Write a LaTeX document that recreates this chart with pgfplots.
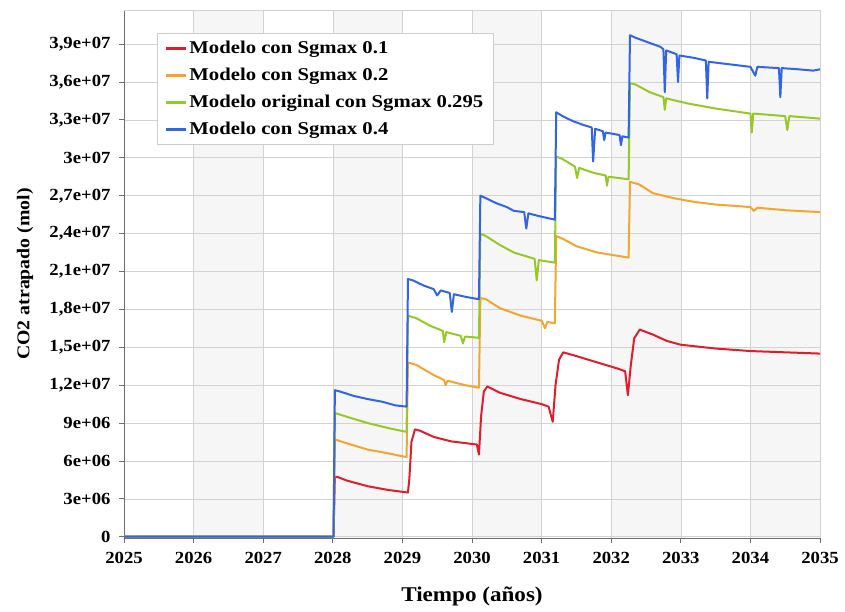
\documentclass[border=0pt]{standalone}
\usepackage{pgfplots}
\pgfplotsset{compat=1.18}
\usepackage{fontspec}
\setmainfont{Liberation Serif}[FakeStretch=1.1]
\newfontfamily\legfont{Liberation Serif}[FakeStretch=1.15]
\definecolor{cred}{RGB}{222,30,45}
\definecolor{corange}{RGB}{243,165,45}
\definecolor{cgreen}{RGB}{150,200,40}
\definecolor{cblue}{RGB}{50,100,230}
\definecolor{axgray}{RGB}{110,110,110}
\begin{document}
\begin{tikzpicture}
\begin{axis}[
  set layers=standard,
  at={(0,0)}, anchor=south west,
  scale only axis, width=696pt, height=528pt,
  xmin=2025, xmax=2035, ymin=-1e5, ymax=4.17e7,
  xtick={2025,2026,2027,2028,2029,2030,2031,2032,2033,2034,2035},
  xticklabels={2025,2026,2027,2028,2029,2030,2031,2032,2033,2034,2035},
  ytick={0,3e6,6e6,9e6,1.2e7,1.5e7,1.8e7,2.1e7,2.4e7,2.7e7,3e7,3.3e7,3.6e7,3.9e7},
  yticklabels={0,3e+06,6e+06,9e+06,{1,2e+07},{1,5e+07},{1,8e+07},{2,1e+07},{2,4e+07},{2,7e+07},3e+07,{3,3e+07},{3,6e+07},{3,9e+07}},
  scaled y ticks=false,
  axis x line*=bottom, axis y line*=left,
  axis line style={axgray, line width=1pt, -},
  tick style={axgray, line width=0.8pt},
  tick align=outside, major tick length=5pt,
  grid=major, major grid style={gray!35, line width=0.6pt},
  ticklabel style={font=\fontsize{17}{19}\selectfont\bfseries},
  yticklabel style={xshift=-5pt},
  xticklabel style={yshift=-6pt},
  xlabel={Tiempo (años)},
  ylabel={CO2 atrapado (mol)},
  xlabel style={at={(axis description cs:0.5,-0.11)}, anchor=center, font=\fontsize{21}{24}\selectfont\bfseries},
  ylabel style={at={(axis description cs:-0.142,0.5)}, anchor=center, font=\fontsize{18}{21}\selectfont\bfseries},
  legend style={at={(rel axis cs:0.047,0.956)}, anchor=north west, draw=gray!40, fill=white,
    font=\fontsize{18}{20}\legfont\bfseries, row sep=9pt, inner xsep=8pt, inner ysep=6pt},
  legend cell align=left,
  legend image code/.code={\draw[#1, line width=2.5pt] (0pt,0pt) -- (20pt,0pt);},
  every axis plot/.append style={line width=2pt, line join=round, no markers},
]
\begin{pgfonlayer}{axis background}
\fill[gray!7] (axis cs:2026,-1e5) rectangle (axis cs:2027,4.17e7);
\fill[gray!7] (axis cs:2028,-1e5) rectangle (axis cs:2029,4.17e7);
\fill[gray!7] (axis cs:2030,-1e5) rectangle (axis cs:2031,4.17e7);
\fill[gray!7] (axis cs:2032,-1e5) rectangle (axis cs:2033,4.17e7);
\fill[gray!7] (axis cs:2034,-1e5) rectangle (axis cs:2035,4.17e7);
\end{pgfonlayer}
\draw[gray!35, line width=0.6pt] (rel axis cs:0,1) -- (rel axis cs:1,1) -- (rel axis cs:1,0);

\addplot[cred] coordinates {
(2025,0) (2028.01,0) (2028.03,4.7e6) (2028.06,4.75e6) (2028.2,4.45e6) (2028.5,4.0e6) (2028.8,3.7e6) (2029.08,3.5e6)
(2029.1,4.6e6) (2029.13,7.5e6) (2029.18,8.5e6) (2029.25,8.4e6) (2029.45,7.9e6) (2029.7,7.55e6) (2030.07,7.3e6)
(2030.1,6.5e6) (2030.13,9.5e6) (2030.17,1.15e7) (2030.22,1.19e7) (2030.4,1.14e7) (2030.7,1.09e7) (2031.0,1.05e7) (2031.1,1.03e7)
(2031.16,9.1e6) (2031.2,1.2e7) (2031.25,1.4e7) (2031.31,1.46e7) (2031.5,1.43e7) (2031.8,1.38e7) (2032.1,1.33e7) (2032.2,1.31e7)
(2032.24,1.12e7) (2032.28,1.35e7) (2032.33,1.57e7) (2032.41,1.64e7) (2032.6,1.6e7) (2032.8,1.55e7) (2033.0,1.52e7)
(2033.5,1.49e7) (2034.0,1.47e7) (2034.5,1.46e7) (2035,1.45e7)
};
\addlegendentry{Modelo con Sgmax 0.1}

\addplot[corange] coordinates {
(2025,0) (2028.01,0) (2028.03,7.7e6) (2028.2,7.4e6) (2028.5,6.9e6) (2028.8,6.6e6) (2029.06,6.3e6)
(2029.08,1.38e7) (2029.2,1.36e7) (2029.45,1.28e7) (2029.6,1.24e7) (2029.62,1.20e7) (2029.65,1.235e7) (2029.9,1.20e7) (2030.1,1.18e7)
(2030.12,1.89e7) (2030.2,1.88e7) (2030.4,1.81e7) (2030.7,1.75e7) (2031.0,1.71e7) (2031.05,1.65e7) (2031.08,1.70e7) (2031.19,1.69e7)
(2031.21,2.38e7) (2031.3,2.36e7) (2031.5,2.30e7) (2031.8,2.25e7) (2032.25,2.21e7)
(2032.27,2.81e7) (2032.4,2.79e7) (2032.6,2.72e7) (2032.9,2.68e7) (2033.2,2.65e7) (2033.5,2.63e7) (2034.0,2.61e7)
(2034.05,2.58e7) (2034.1,2.605e7) (2034.5,2.585e7) (2035,2.57e7)
};
\addlegendentry{Modelo con Sgmax 0.2}

\addplot[cgreen] coordinates {
(2025,0) (2028.01,0) (2028.03,9.8e6) (2028.2,9.5e6) (2028.5,9.0e6) (2028.8,8.6e6) (2029.06,8.3e6)
(2029.08,1.75e7) (2029.2,1.73e7) (2029.4,1.67e7) (2029.58,1.63e7) (2029.6,1.54e7) (2029.63,1.62e7) (2029.84,1.59e7) (2029.87,1.53e7) (2029.9,1.585e7) (2030.1,1.575e7)
(2030.12,2.40e7) (2030.2,2.38e7) (2030.4,2.31e7) (2030.6,2.25e7) (2030.9,2.20e7) (2030.93,2.03e7) (2030.96,2.19e7) (2031.19,2.17e7)
(2031.21,3.01e7) (2031.3,2.99e7) (2031.48,2.93e7) (2031.51,2.84e7) (2031.54,2.92e7) (2031.75,2.88e7) (2031.92,2.86e7) (2031.94,2.78e7) (2031.96,2.85e7) (2032.25,2.83e7)
(2032.27,3.59e7) (2032.35,3.58e7) (2032.55,3.52e7) (2032.75,3.48e7) (2032.77,3.38e7) (2032.79,3.47e7) (2033.1,3.43e7) (2033.5,3.39e7)
(2034.0,3.35e7) (2034.02,3.20e7) (2034.04,3.35e7) (2034.5,3.33e7) (2034.53,3.22e7) (2034.56,3.33e7) (2035,3.31e7)
};
\addlegendentry{Modelo original con Sgmax 0.295}

\addplot[cblue] coordinates {
(2025,0) (2028.01,0) (2028.03,1.16e7) (2028.1,1.15e7) (2028.3,1.115e7) (2028.5,1.09e7) (2028.7,1.07e7) (2028.9,1.04e7) (2029.06,1.03e7)
(2029.08,2.04e7) (2029.15,2.03e7) (2029.3,1.99e7) (2029.45,1.96e7) (2029.5,1.91e7) (2029.55,1.95e7) (2029.68,1.93e7) (2029.71,1.78e7) (2029.74,1.92e7) (2029.9,1.90e7) (2030.1,1.88e7)
(2030.12,2.70e7) (2030.2,2.68e7) (2030.35,2.64e7) (2030.5,2.61e7) (2030.6,2.58e7) (2030.75,2.57e7) (2030.78,2.44e7) (2030.81,2.56e7) (2030.95,2.54e7) (2031.19,2.51e7)
(2031.21,3.36e7) (2031.3,3.33e7) (2031.45,3.29e7) (2031.6,3.26e7) (2031.72,3.24e7) (2031.74,2.97e7) (2031.77,3.23e7) (2031.88,3.21e7) (2031.9,3.14e7) (2031.92,3.20e7)
(2032.12,3.18e7) (2032.14,3.10e7) (2032.16,3.17e7) (2032.25,3.16e7)
(2032.27,3.97e7) (2032.35,3.95e7) (2032.5,3.92e7) (2032.7,3.88e7) (2032.75,3.86e7) (2032.77,3.52e7) (2032.79,3.85e7) (2032.94,3.82e7) (2032.96,3.60e7) (2032.98,3.81e7)
(2033.2,3.79e7) (2033.36,3.77e7) (2033.38,3.47e7) (2033.4,3.76e7) (2033.7,3.74e7) (2034.0,3.72e7) (2034.07,3.65e7) (2034.1,3.72e7)
(2034.41,3.71e7) (2034.43,3.48e7) (2034.45,3.71e7) (2034.7,3.70e7) (2034.9,3.69e7) (2035,3.70e7)
};
\addlegendentry{Modelo con Sgmax 0.4}
\end{axis}
\pgfresetboundingbox
\path (-124pt,-73pt) rectangle (721pt,538pt);
\end{tikzpicture}
\end{document}
